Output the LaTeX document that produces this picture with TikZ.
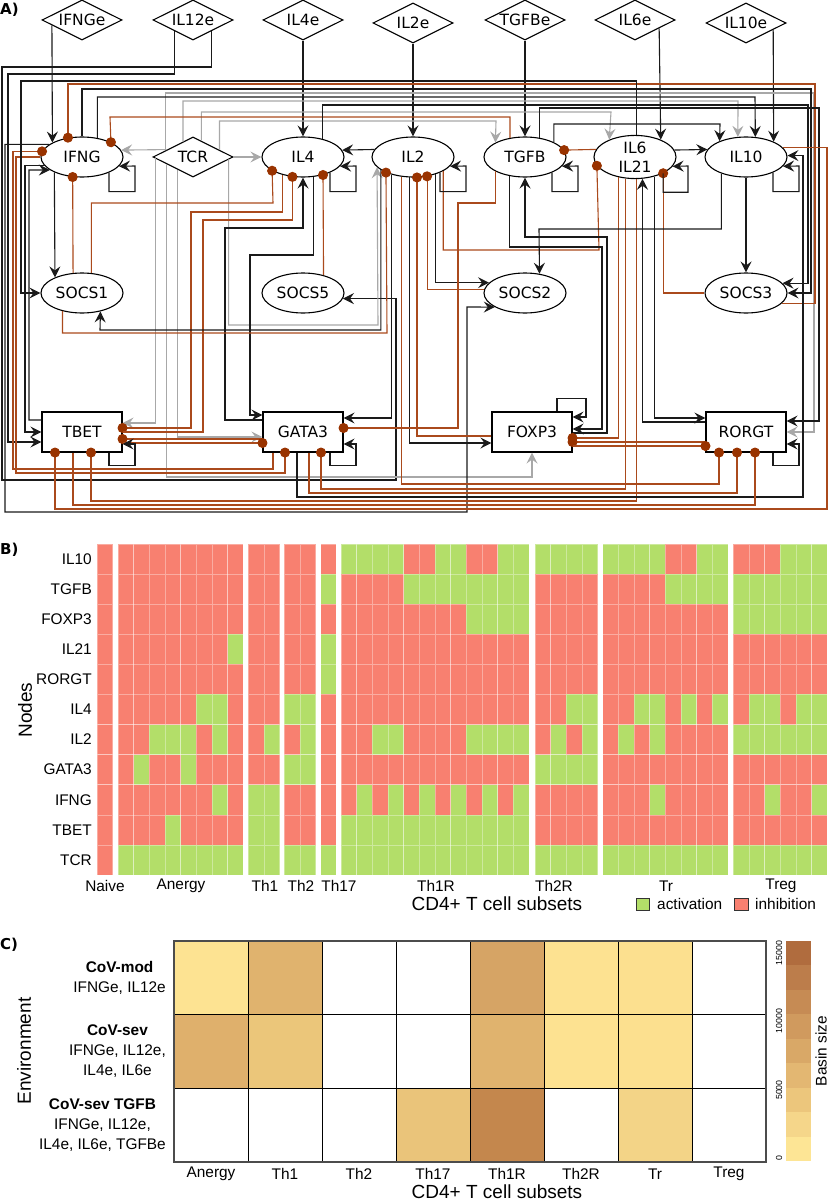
\documentclass[tikz,border=0pt]{standalone}
\usepackage{fontspec}
\setmainfont{DejaVu Sans}
\newfontfamily\ggfont{Liberation Sans}
\usetikzlibrary{shapes.geometric,arrows.meta}

\definecolor{actline}{HTML}{1A1A1A}
\definecolor{tcrline}{HTML}{A8A8A8}
\definecolor{inhline}{HTML}{AA4A1C}
\definecolor{inhdot}{HTML}{993300}
\definecolor{inhred}{HTML}{F88070}
\definecolor{actgreen}{HTML}{B3DE69}

\tikzset{
  base/.style={draw=black, line width=1.1pt, fill=white, inner sep=0pt,
    font=\fontsize{15.5}{19}\selectfont},
  cyto/.style={base, ellipse, minimum width=82pt, minimum height=40pt},
  tf/.style={base, rectangle, minimum width=80pt, minimum height=40pt},
  envin/.style={base, diamond, aspect=2, minimum width=80pt, minimum height=40pt},
  act/.style={draw=actline, line width=1.1pt,
    -{Stealth[length=11pt,width=11pt,inset=4pt]}},
  tcr/.style={act, draw=tcrline},
  inh/.style={draw=inhline, line width=1.1pt,
    -{Circle[length=10pt,color=inhdot]}, shorten >=-5pt},
  tag/.style={anchor=north west, inner sep=0pt, font=\bfseries\fontsize{15}{18}\selectfont},
  cell0/.style={fill=inhred, draw=white, draw opacity=0.35, line width=0.5pt},
  cell1/.style={fill=actgreen, draw=white, draw opacity=0.35, line width=0.5pt},
  ticklab/.style={inner sep=0pt, font=\ggfont\fontsize{15.4}{18}\selectfont},
  axlab/.style={inner sep=0pt, font=\ggfont\fontsize{19}{22}\selectfont},
  envlab/.style={inner sep=0pt, align=center, anchor=east,
    font=\ggfont\fontsize{15.4}{20}\selectfont},
}

\begin{document}
\begin{tikzpicture}[x=1pt,y=-1pt]
\useasboundingbox (0,0) rectangle (828,1201);

%% ---------------- A) network ----------------
\node[tag] (tagA) at (0,3) {A)};

% environment inputs
\node[envin] (IFNGe) at (82,20) {IFNGe};
\node[envin] (IL12e) at (193,20) {IL12e};
\node[envin] (IL4e) at (303,20) {IL4e};
\node[envin] (IL2e) at (413,23) {IL2e};
\node[envin] (TGFBe) at (525,20) {TGFBe};
\node[envin] (IL6e) at (635,20) {IL6e};
\node[envin] (IL10e) at (746,23) {IL10e};

% cytokines
\node[cyto] (IFNG) at (82,157) {IFNG};
\node[envin] (TCR) at (193,157) {TCR};
\node[cyto] (IL4) at (303,157) {IL4};
\node[cyto] (IL2) at (413,157) {IL2};
\node[cyto] (TGFB) at (525,157) {TGFB};
\node[cyto, align=center] (IL6) at (635,157) {IL6\\IL21};
\node[cyto] (IL10) at (746,157) {IL10};

% SOCS
\node[cyto] (SOCS1) at (82,293) {SOCS1};
\node[cyto] (SOCS5) at (303,293) {SOCS5};
\node[cyto] (SOCS2) at (525,293) {SOCS2};
\node[cyto] (SOCS3) at (746,293) {SOCS3};

% transcription factors
\node[tf] (TBET) at (82,432) {TBET};
\node[tf] (GATA3) at (303,432) {GATA3};
\node[tf] (FOXP3) at (532,432) {FOXP3};
\node[tf] (RORGT) at (746,432) {RORGT};

% inputs from the environment
\draw[act] (IFNGe.190.7) -- (IFNG.154);
\draw[act] (IL12e.211.4) |- (8,74) |- ([yshift=-10pt]TBET.west);
\draw[act] (IL12e.328.6) |- (2,67) |- (396,480) |- (SOCS5.352.8);
\draw[act] (IL4e) -- (IL4);
\draw[act] (IL2e) -- (IL2);
\draw[act] (TGFBe) -- (TGFB);
\draw[act] (IL6e.341.6) -- (IL6.34);
\draw[act] (IL10e.346.5) -- (IL10.29.1);

% TCR
\draw[tcr] (TCR.164.9) -- (IFNG.10.3);
\draw[tcr] (TCR.east) -- (IL4.west);
\draw[tcr] (TCR.166.5) |- (814,93) |- (RORGT.east);
\draw[tcr] (TCR.123.7) |- (738,101) -- (IL10.112.2);
\draw[tcr] (TCR.63.4) |- (611,112) -- (IL6.146);
\draw[tcr] (TCR.15.1) |- (496,121) -- (TGFB.154);
\draw[tcr] (TCR.182.3) |- ([yshift=9pt]TBET.east);
\draw[tcr] (TCR.219.8) |- ([yshift=-5pt]GATA3.west);
\draw[tcr] (TCR.356.8) |- (378,325) -- (IL2.196.6);
\draw[tcr] (TCR.195.1) |- (532,477) -- (FOXP3.south);

% IFNG
\draw[act] (IFNG.north) |- (811,89) |- (SOCS3.east);
\draw[act] (IFNG.51.1) |- (755,97) -- (IL10.65.2);
\draw[act] (IFNG.159.9) -| (5,512) -| (467,307) -- (SOCS2.205.5);
\draw[inh] (IFNG.west) -| (16,473) -| ([xshift=-18pt]GATA3.south);
\draw[act] (IFNG.193.8) -| (25,432) -- (TBET.west);
\draw[act] (IFNG.209.1) -- (SOCS1.150.9);
\draw[inh] (SOCS3.344.3) -| (815,84) -| (IFNG.126.7);
\draw[inh] (TGFB.128.9) |- (110,117) -- (IFNG.27.5);
\draw[inh] ([xshift=-30pt]GATA3.south) |- (13,469) |- (IFNG.172.8);
\draw[inh] (SOCS1.114.8) -- (IFNG.245.2);
\draw[act] ([yshift=12pt]TBET.west) -| (29,170) -- (IFNG.202.6);
\draw[act] (IL6.87) |- (21,81) |- (SOCS1.west);

% IL4
\draw[act] (IL4.43) |- (808,105) |- (SOCS3.15.7);
\draw[inh] (IL4.221.1) |- (191,212) |- ([yshift=4pt]TBET.east);
\draw[act] (IL4.297.3) |- (250,255) |- ([yshift=17pt]GATA3.west);
\draw[act] ([yshift=12pt]GATA3.west) -| (225,228) -| (IL4.south);
\draw[inh] (SOCS1.65.2) |- (273,203) -- (IL4.204.4);
\draw[inh] (TBET.east) -| (203,220) -| (IL4.242.7);
\draw[inh] (SOCS5.41.1) -- (IL4.318.9);
\draw[act] (IL2.169.7) -- (IL4.10.3);

% IL2
\draw[act] (IL2.202.9) |- (100,330) -- (SOCS1.315);
\draw[inh] (SOCS1.223) |- (387,333) -- (IL2.210.8);
\draw[act] (IL2.219.3) |- ([yshift=14pt]GATA3.east);
\draw[inh] (IL2.239.7) |- (719,484) -- ([xshift=-27pt]RORGT.south);
\draw[act] (IL2.261.4) |- ([yshift=-11pt]FOXP3.west);
\draw[inh] ([yshift=-4pt]FOXP3.west) -| (IL2.281.4);
\draw[inh] (SOCS2.175.7) -| (IL2.306.7);
\draw[act] (IL2.322.5) |- (SOCS2.164.3);
\draw[inh] (IL2.335.6) |- (599,250) -- (IL6.193.8);

% TGFB
\draw[inh] (TGFB.206) |- (458,203) |- ([yshift=4pt]GATA3.east);
\draw[act] (TGFB.53.3) |- (819,108) |- ([yshift=11pt]RORGT.east);
\draw[act] (TGFB.27.5) |- (720,124) -- (IL10.149.3);
\draw[act] (TGFB.231.1) |- (602,247) |- ([yshift=3pt]FOXP3.east);
\draw[act] ([yshift=-1pt]FOXP3.east) -| (607,237) -| (TGFB.south);
\draw[inh] (IL6.169.7) -- (TGFB.10.3);

% IL6 / IL21
\draw[act] (IL6.10.3) -- (IL10.169.7);
\draw[inh] (SOCS3.west) -| (IL6.330.9);
\draw[inh] (IL6.231.1) |- ([yshift=-6pt]FOXP3.east);
\draw[inh] (IL6.247.8) |- (321,489) -- ([xshift=18pt]GATA3.south);
\draw[inh] (IL6.273) |- (91,501) -- ([xshift=9pt]TBET.south);
\draw[act] (IL6.315) |- ([yshift=14pt]RORGT.west);
\draw[act] ([yshift=10pt]RORGT.west) -| (IL6.289.6);

% IL10
\draw[act] (IL10.south) -- (SOCS3.north);
\draw[act] (IL10.214) |- (539,229) -- (SOCS2.53.3);
\draw[inh] (IL10.15.7) -| (827,509) -| ([xshift=-27pt]TBET.south);
\draw[act] ([xshift=-6pt]GATA3.south) |- (803,497) |- (IL10.2.8);

% transcription factors
\draw[inh] ([yshift=-7pt]GATA3.west) -- ([yshift=-7pt]TBET.east);
\draw[inh] ([yshift=-11pt]TBET.east) -- ([yshift=-11pt]GATA3.west);
\draw[inh] ([xshift=6pt]GATA3.south) |- (737,493) -- ([xshift=-9pt]RORGT.south);
\draw[inh] ([xshift=-9pt]TBET.south) |- (755,505) -- ([xshift=9pt]RORGT.south);
\draw[inh] ([yshift=-10pt]RORGT.west) -- ([yshift=-10pt]FOXP3.east);
\draw[inh] ([yshift=-14pt]FOXP3.east) -- ([yshift=-14pt]RORGT.west);

% self loops
\foreach \n in {IFNG,IL4,IL2,TGFB,IL6,IL10}
  \draw[act] (\n.330.9) -- ++(0,19) -| ([xshift=53pt,yshift=-9pt]\n.center) -- (\n.346.2);
\foreach \n in {TBET,GATA3,RORGT}
  \draw[act] ([xshift=27pt]\n.south) -- ++(0,13) -| ([xshift=53pt,yshift=-12pt]\n.center) -- ([yshift=-12pt]\n.east);
\draw[act] ([xshift=25pt]FOXP3.north) -- ++(0,-13) -| ([xshift=54pt,yshift=15pt]FOXP3.center) -- ([yshift=15pt]FOXP3.east);

%% ---------------- B) attractors ----------------
\node[tag] (tagB) at (0,543) {B)};

\foreach \x/\vals in {
    97.00/{0,0,0,0,0,0,0,0,0,0,0},
    118.00/{0,0,0,0,0,0,0,0,0,0,1}, 133.67/{0,0,0,0,0,0,0,1,0,0,1},
    149.33/{0,0,0,0,0,0,1,0,0,0,1}, 165.00/{0,0,0,0,0,0,1,0,0,1,1},
    180.67/{0,0,0,0,0,0,1,1,0,0,1}, 196.33/{0,0,0,0,0,1,0,0,0,0,1},
    212.00/{0,0,0,0,0,1,1,0,1,0,1}, 227.67/{0,0,0,1,0,0,0,0,0,0,1},
    248.33/{0,0,0,0,0,0,0,0,1,1,1}, 264.00/{0,0,0,0,0,0,1,0,1,1,1},
    284.33/{0,0,0,0,0,1,0,1,0,0,1}, 300.00/{0,0,0,0,0,1,1,1,0,0,1},
    320.67/{0,1,0,1,1,0,0,0,0,0,1},
    341.00/{1,0,0,0,0,0,0,0,0,1,1}, 356.67/{1,0,0,0,0,0,0,0,1,1,1},
    372.33/{1,0,0,0,0,0,1,0,0,1,1}, 388.00/{1,0,0,0,0,0,1,0,1,1,1},
    403.67/{0,1,0,0,0,0,0,0,0,1,1}, 419.33/{0,1,0,0,0,0,0,0,1,1,1},
    435.00/{1,1,0,0,0,0,0,0,0,1,1}, 450.67/{1,1,0,0,0,0,0,0,1,1,1},
    466.33/{0,1,1,0,0,0,1,0,0,1,1}, 482.00/{0,1,1,0,0,0,1,0,1,1,1},
    497.67/{1,1,1,0,0,0,1,0,0,1,1}, 513.33/{1,1,1,0,0,0,1,0,1,1,1},
    535.00/{1,0,0,0,0,0,0,1,0,0,1}, 550.67/{1,0,0,0,0,0,1,1,0,0,1},
    566.33/{1,0,0,0,0,1,0,1,0,0,1}, 582.00/{1,0,0,0,0,1,1,1,0,0,1},
    602.67/{1,0,0,0,0,0,0,0,0,0,1}, 618.33/{1,0,0,0,0,0,1,0,0,0,1},
    634.00/{1,0,0,0,0,1,0,0,0,0,1}, 649.67/{1,0,0,0,0,1,1,0,1,0,1},
    665.33/{0,1,0,0,0,0,0,0,0,0,1}, 681.00/{0,1,0,0,0,1,0,0,0,0,1},
    696.67/{1,1,0,0,0,0,0,0,0,0,1}, 712.33/{1,1,0,0,0,1,0,0,0,0,1},
    733.33/{0,1,1,0,0,0,1,0,0,0,1}, 749.00/{0,1,1,0,0,1,1,0,0,0,1},
    764.67/{0,1,1,0,0,1,1,0,1,0,1}, 780.33/{1,1,1,0,0,0,1,0,0,0,1},
    796.00/{1,1,1,0,0,1,1,0,0,0,1}, 811.67/{1,1,1,0,0,1,1,0,1,0,1}} {
  \foreach \v [count=\r] in \vals
    \path[cell\v] (\x,{544+(\r-1)*30.09}) rectangle ++(15.67,30.09);
}

\foreach \lab [count=\r] in {IL10,TGFB,FOXP3,IL21,RORGT,IL4,IL2,GATA3,IFNG,TBET,TCR}
  \node[ticklab, anchor=east] (row\r) at (92,{544+(\r-0.5)*30.09}) {\lab};
\node[axlab, rotate=90] (nodesT) at (25,710) {Nodes};

\foreach \x/\t in {105/Naive,181/Anergy,265/Th1,301/Th2,339/Th17,436/Th1R,554/Th2R,666/Tr,781/Treg}
  \node[ticklab] (bx\t) at (\x,886) {\t};
\node[axlab] (subB) at (497,904) {CD4+ T cell subsets};

\draw[fill=actgreen, draw=black!80, line width=0.8pt] (636,898) rectangle (649,910);
\node[ticklab, anchor=west] (legAct) at (657,904) {activation};
\draw[fill=inhred, draw=black!80, line width=0.8pt] (734,898) rectangle (748,910);
\node[ticklab, anchor=west] (legInh) at (755,904) {inhibition};

%% ---------------- C) basin sizes ----------------
\node[tag] (tagC) at (0,938) {C)};

\foreach \c/\r/\h in {1/1/FDE392,2/1/E0B36E,5/1/D6A465,6/1/FDE291,7/1/FCE08F,
                      1/2/DFB06C,2/2/EBC67A,5/2/E0B36E,6/2/FDE291,7/2/FCE08F,
                      4/3/EAC47A,5/3/C4874D,7/3/F3D487} {
  \definecolor{tmp}{HTML}{\h}
  \fill[tmp] ({174+(\c-1)*74},{941+(\r-1)*73.67}) rectangle ++(74,73.67);
}
\foreach \c in {0,...,8}
  \draw[black, line width=0.9pt] ({174+\c*74},941) -- ({174+\c*74},1162);
\foreach \r in {0,...,3}
  \draw[black, line width=0.9pt] (174,{941+\r*73.67}) -- (766,{941+\r*73.67});
\draw[black!70, line width=1.2pt] (174,941) rectangle (766,1162);

\node[envlab] (env1) at (166,977.8) {\textbf{CoV-mod}\\IFNGe, IL12e};
\node[envlab] (env2) at (166,1051.5) {\textbf{CoV-sev}\\IFNGe, IL12e,\\IL4e, IL6e};
\node[envlab] (env3) at (166,1125.2) {\textbf{CoV-sev TGFB}\\IFNGe, IL12e,\\IL4e, IL6e, TGFBe};
\node[axlab, rotate=90] (envT) at (24,1051) {Environment};

\foreach \t [count=\i] in {Anergy,Th1,Th2,Th17,Th1R,Th2R,Tr,Treg}
  \node[ticklab] (cx\i) at ({174+(\i-0.5)*74},1174) {\t};
\node[axlab, anchor=base] (subC) at (497,1198) {CD4+ T cell subsets};

% colour bar
\foreach \h [count=\i] in {FDE595,F5D68A,ECC67C,E3B772,D9A867,D09A5E,C68B54,BC7D4B,B06C3E} {
  \definecolor{tmp}{HTML}{\h}
  \fill[tmp] (786,{1161-\i*24.44}) rectangle (811,{1161-(\i-1)*24.44});
}
\foreach \y/\t in {1158/0,1090/5000,1021/10000,953/15000}
  \node[inner sep=0pt, rotate=90, font=\ggfont\fontsize{8.8}{10}\selectfont] (cb\t) at (779,\y) {\t};
\node[ticklab, rotate=90] (basinT) at (821,1051) {Basin size};

\end{tikzpicture}
\end{document}
